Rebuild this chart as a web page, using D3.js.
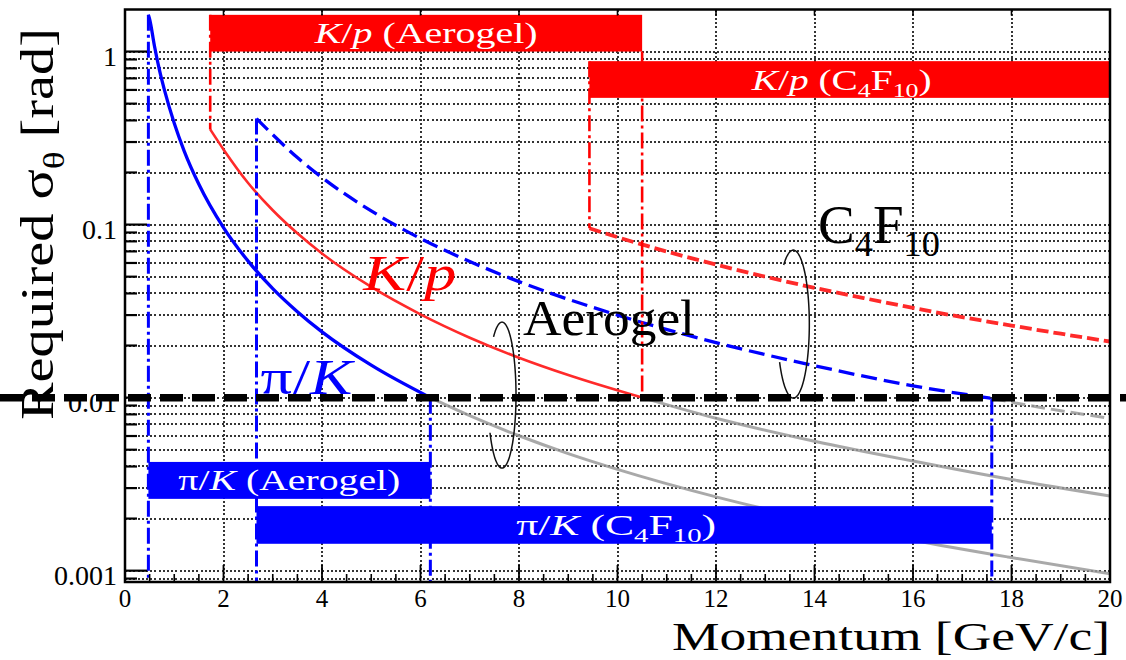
<!DOCTYPE html>
<html>
<head>
<meta charset="utf-8">
<script src="https://cdn.jsdelivr.net/npm/d3@7"></script>
<style>
  html, body { margin: 0; padding: 0; background: #fff; }
  svg { display: block; }
  text { font-family: "Liberation Serif", "Times New Roman", serif; }
</style>
</head>
<body>
<svg id="chart" width="1126" height="660"></svg>
<script>
// ---- axis ticks ----
const xTickValues = [0, 2, 4, 6, 8, 10, 12, 14, 16, 18, 20];
const xTickLabels = ["0", "2", "4", "6", "8", "10", "12", "14", "16", "18", "20"];
const yTickValues = [1, 0.1, 0.01, 0.001];
const yTickLabels = ["1", "0.1", "0.01", "0.001"];

// ---- required angular resolution vs momentum [GeV/c] -> [rad] ----
// pi/K with aerogel radiator
const piKAerogelP     = [0.475, 0.5, 0.6, 0.7, 0.8, 1.0, 1.2, 1.5, 2.0, 2.5, 3.0, 3.5, 4.0, 5.0, 6.2];
const piKAerogelSigma = [1.63, 1.54, 1.07, 0.78, 0.60, 0.385, 0.267, 0.171, 0.096, 0.0615, 0.0427, 0.0314, 0.0240, 0.0154, 0.0100];
// pi/K aerogel beyond the 0.01 rad limit
const piKAerogelTailP     = [6.2, 7, 8, 9, 10, 12, 14, 16, 18, 20];
const piKAerogelTailSigma = [0.0100, 0.00786, 0.00602, 0.00475, 0.00385, 0.00267, 0.00196, 0.00150, 0.00119, 0.00096];

// K/p with aerogel radiator
const kpAerogelP     = [1.73, 2.0, 2.5, 3.0, 3.5, 4.0, 5.0, 6.0, 7.0, 8.0, 9.0, 10.5];
const kpAerogelSigma = [0.355, 0.272, 0.174, 0.121, 0.089, 0.068, 0.0436, 0.0303, 0.0222, 0.0170, 0.0135, 0.0100];
const kpAerogelTailP     = [10.5, 12, 14, 16, 18, 20];
const kpAerogelTailSigma = [0.0100, 0.0076, 0.0056, 0.0043, 0.00336, 0.0027];

// pi/K with C4F10 gas radiator
const piKGasP     = [2.67, 3.0, 3.5, 4.0, 5.0, 6.0, 7.0, 8.0, 10.0, 12.0, 14.0, 16.0, 17.6];
const piKGasSigma = [0.41, 0.331, 0.244, 0.187, 0.120, 0.0831, 0.0612, 0.0468, 0.0300, 0.0208, 0.0153, 0.0117, 0.0099];
const piKGasTailP     = [17.6, 18, 19, 20];
const piKGasTailSigma = [0.0099, 0.0094, 0.0084, 0.0076];

// K/p with C4F10 gas radiator
const kpGasP     = [9.43, 10, 11, 12, 13, 14, 15, 16, 17, 18, 19, 20];
const kpGasSigma = [0.0952, 0.0846, 0.0699, 0.0587, 0.0500, 0.0431, 0.0376, 0.0330, 0.0292, 0.0261, 0.0234, 0.0211];

// requirement line
const sigmaRequirement = 0.01;

// ---- momentum coverage bands ----
const bandPair      = ["K/p", "K/p", "π/K", "π/K"];
const bandRadiator  = ["Aerogel", "C4F10", "Aerogel", "C4F10"];
const bandPStart    = [1.73, 9.43, 0.475, 2.67];
const bandPEnd      = [10.5, 20, 6.2, 17.6];
const bandSigmaLow  = [1.0, 0.54, 0.0026, 0.00143];
const bandSigmaHigh = [1.63, 0.88, 0.00425, 0.00236];

// ---- threshold / limit markers (vertical dash-dot lines) ----
const markerPair     = ["π/K", "K/p", "π/K", "π/K", "K/p", "K/p", "π/K"];
const markerP        = [0.475, 1.73, 2.67, 6.2, 9.43, 10.5, 17.6];
const markerSigmaTop = [1.63, 1.63, 0.41, 0.01, 0.88, 1.0, 0.0099];
const markerSigmaBot = [null, 0.355, null, null, 0.0952, 0.01, null];

// ---------------------------------------------------------------
const W = 1126, H = 660;
const plot = { left: 125, right: 1110, top: 9.5, bottom: 582 };
const pairColor = { "K/p": "#ff0000", "π/K": "#0000ff" };
const yMin = 0.00086, yMax = 1.75;

const x = d3.scaleLinear().domain([0, 20]).range([plot.left, plot.right]);
const y = d3.scaleLog().domain([yMin, yMax]).range([plot.bottom, plot.top]);

const svg = d3.select("#chart");
svg.append("rect").attr("width", W).attr("height", H).attr("fill", "#fff");

svg.append("defs").append("clipPath").attr("id", "plotClip")
  .append("rect")
  .attr("x", plot.left).attr("y", plot.top)
  .attr("width", plot.right - plot.left).attr("height", plot.bottom - plot.top);

// ---- grid (dotted) ----
const grid = svg.append("g").attr("stroke", "#111").attr("stroke-width", 1.6)
  .attr("stroke-dasharray", "2,2.2").attr("opacity", 0.85)
  .attr("shape-rendering", "crispEdges");
const yGridTicks = y.ticks();
grid.selectAll("line.h").data(yGridTicks).join("line")
  .attr("x1", plot.left).attr("x2", plot.right)
  .attr("y1", d => Math.round(y(d))).attr("y2", d => Math.round(y(d)));
grid.selectAll("line.v").data(xTickValues.slice(1, -1)).join("line")
  .attr("y1", plot.top).attr("y2", plot.bottom)
  .attr("x1", d => Math.round(x(d))).attr("x2", d => Math.round(x(d)));

// ---- curves ----
const curves = svg.append("g").attr("clip-path", "url(#plotClip)").attr("fill", "none");
const line = d3.line().x(d => x(d[0])).y(d => y(d[1])).curve(d3.curveMonotoneX);
const zip = (a, b) => a.map((v, i) => [v, b[i]]);

// grey continuations below the requirement
curves.append("path").attr("d", line(zip(piKAerogelTailP, piKAerogelTailSigma)))
  .attr("stroke", "#9a9a9a").attr("stroke-width", 3).attr("opacity", 0.85);
curves.append("path").attr("d", line(zip(kpAerogelTailP, kpAerogelTailSigma)))
  .attr("stroke", "#9a9a9a").attr("stroke-width", 3).attr("opacity", 0.85);
curves.append("path").attr("d", line(zip(piKGasTailP, piKGasTailSigma)))
  .attr("stroke", "#9a9a9a").attr("stroke-width", 3).attr("opacity", 0.85)
  .attr("stroke-dasharray", "14,6");

// aerogel (solid)
curves.append("path").attr("d", line(zip(piKAerogelP, piKAerogelSigma)))
  .attr("stroke", pairColor["π/K"]).attr("stroke-width", 3.3);
curves.append("path").attr("d", line(zip(kpAerogelP, kpAerogelSigma)))
  .attr("stroke", "#ff2a2a").attr("stroke-width", 2.6);
// C4F10 (dashed)
curves.append("path").attr("d", line(zip(piKGasP, piKGasSigma)))
  .attr("stroke", pairColor["π/K"]).attr("stroke-width", 3.3).attr("stroke-dasharray", "16,7");
curves.append("path").attr("d", line(zip(kpGasP, kpGasSigma)))
  .attr("stroke", "#ff2a2a").attr("stroke-width", 3.8).attr("stroke-dasharray", "12,5");

// ---- dash-dot markers ----
const markers = svg.append("g").attr("clip-path", "url(#plotClip)");
markers.selectAll("line").data(markerP).join("line")
  .attr("x1", d => x(d)).attr("x2", d => x(d))
  .attr("y1", (d, i) => y(markerSigmaTop[i]))
  .attr("y2", (d, i) => markerSigmaBot[i] === null ? plot.bottom : y(markerSigmaBot[i]))
  .attr("stroke", (d, i) => pairColor[markerPair[i]])
  .attr("stroke-width", (d, i) => markerPair[i] === "π/K" ? 3 : 2.6)
  .attr("stroke-dasharray", "16,4,3,4");

// ---- rich text helper (italic / subscript parts) ----
function richText(parent, parts, size, fill) {
  const t = parent.append("text").attr("font-size", size).attr("fill", fill);
  let shift = 0;
  parts.forEach(([s, kind]) => {
    const ts = t.append("tspan").text(s);
    if (kind === "i") ts.attr("font-style", "italic");
    if (kind === "s") {
      const d = size * 0.24;
      ts.attr("font-size", size * 0.66).attr("dy", d - shift);
      shift = d;
    } else if (shift) {
      ts.attr("dy", -shift);
      shift = 0;
    }
  });
  return t;
}
function pairParts(pair) {
  return pair === "K/p" ? [["K", "i"], ["/", ""], ["p", "i"]] : [["π", ""], ["/", ""], ["K", "i"]];
}
function radiatorParts(rad) {
  return rad === "C4F10" ? [["C", ""], ["4", "s"], ["F", ""], ["10", "s"]] : [[rad, ""]];
}

// ---- coverage bands ----
const bandLabelWidth = { "K/p|Aerogel": 223, "K/p|C4F10": 180, "π/K|Aerogel": 222, "π/K|C4F10": 200 };
const bands = svg.append("g");
bandPair.forEach((pair, i) => {
  const x0 = x(bandPStart[i]), x1 = x(bandPEnd[i]);
  const y0 = y(bandSigmaHigh[i]), y1 = y(bandSigmaLow[i]);
  bands.append("rect").attr("x", x0).attr("y", y0)
    .attr("width", x1 - x0).attr("height", y1 - y0)
    .attr("fill", pairColor[pair]);
  const parts = pairParts(pair).concat([[" (", ""]], radiatorParts(bandRadiator[i]), [[")", ""]]);
  const t = richText(bands, parts, 30, "#fff")
    .attr("x", (x0 + x1) / 2 - (bandRadiator[i] === "C4F10" ? 8 : 0))
    .attr("y", (y0 + y1) / 2 + 10)
    .attr("text-anchor", "middle");
  t.attr("textLength", bandLabelWidth[pair + "|" + bandRadiator[i]]).attr("lengthAdjust", "spacingAndGlyphs");
});

// ---- annotations ----
const ann = svg.append("g");
richText(ann, pairParts("π/K"), 50, pairColor["π/K"])
  .attr("x", x(2.75)).attr("y", y(0.0105))
  .attr("textLength", 92).attr("lengthAdjust", "spacingAndGlyphs");
richText(ann, pairParts("K/p"), 50, pairColor["K/p"])
  .attr("x", x(4.84)).attr("y", y(0.0418))
  .attr("textLength", 93).attr("lengthAdjust", "spacingAndGlyphs");
richText(ann, radiatorParts("Aerogel"), 50, "#000")
  .attr("x", x(8.08)).attr("y", y(0.023))
  .attr("textLength", 172).attr("lengthAdjust", "spacingAndGlyphs");
richText(ann, radiatorParts("C4F10"), 54, "#000")
  .attr("x", x(14.07)).attr("y", y(0.0782))
  .attr("textLength", 122).attr("lengthAdjust", "spacingAndGlyphs");

// open ellipses grouping the aerogel and the C4F10 curves
function lasso(pc, sc, rx, ry) {
  const cx = x(pc), cy = y(sc);
  const pts = d3.range(-37, 241, 2).map(a => {
    const t = a * Math.PI / 180;
    return [cx + rx * Math.sin(t), cy - ry * Math.cos(t)];
  });
  ann.append("path").attr("d", d3.line().curve(d3.curveCatmullRom)(pts))
    .attr("fill", "none").attr("stroke", "#111").attr("stroke-width", 1.5);
}
lasso(7.655, 0.01034, 14, 73);
lasso(13.57, 0.0266, 16, 74);

// ---- frame and ticks ----
const axes = svg.append("g").attr("stroke", "#000");
axes.append("rect").attr("x", plot.left).attr("y", plot.top)
  .attr("width", plot.right - plot.left).attr("height", plot.bottom - plot.top)
  .attr("fill", "none").attr("stroke-width", 2.5);

const isMajorY = v => Math.abs(Math.log10(v) - Math.round(Math.log10(v))) < 1e-9;
axes.selectAll("line.yt").data(yGridTicks).join("line")
  .attr("x1", plot.left).attr("x2", d => plot.left + (isMajorY(d) ? 22 : 12))
  .attr("y1", d => y(d)).attr("y2", d => y(d)).attr("stroke-width", 2.2);

const xMinor = d3.range(0.5, 20, 0.5).filter(v => v % 2 !== 0);
axes.selectAll("line.xM").data(xTickValues.slice(1, -1)).join("line")
  .attr("x1", d => x(d)).attr("x2", d => x(d))
  .attr("y1", plot.bottom).attr("y2", plot.bottom - 17).attr("stroke-width", 1.8);
axes.selectAll("line.xm").data(xMinor).join("line")
  .attr("x1", d => x(d)).attr("x2", d => x(d))
  .attr("y1", plot.bottom).attr("y2", plot.bottom - 8).attr("stroke-width", 1.6);
axes.selectAll("line.xT").data(xTickValues.slice(1, -1)).join("line")
  .attr("x1", d => x(d)).attr("x2", d => x(d))
  .attr("y1", plot.top).attr("y2", plot.top + 6).attr("stroke-width", 1.6);

// tick labels
const labels = svg.append("g").attr("fill", "#000");
labels.selectAll("text.x").data(xTickValues).join("text")
  .attr("x", d => x(d)).attr("y", 607)
  .attr("text-anchor", "middle").attr("font-size", 25)
  .text((d, i) => xTickLabels[i]);
labels.selectAll("text.y").data(yTickValues).join("text")
  .attr("x", 117).attr("y", d => y(d) + 14)
  .attr("text-anchor", "end").attr("font-size", 28)
  .text((d, i) => yTickLabels[i]);

// axis titles
labels.append("text").attr("x", plot.right).attr("y", 650)
  .attr("text-anchor", "end").attr("font-size", 40)
  .attr("textLength", 438).attr("lengthAdjust", "spacingAndGlyphs")
  .text("Momentum [GeV/c]");
richText(labels, [["Required σ", ""], ["θ", "s"], ["  [rad]", ""]], 46, "#000")
  .attr("text-anchor", "middle")
  .attr("transform", "translate(53," + ((28 + 420) / 2) + ") rotate(-90)")
  .attr("textLength", 392).attr("lengthAdjust", "spacingAndGlyphs");

// ---- requirement line across the full width ----
svg.append("line")
  .attr("x1", 0).attr("x2", W)
  .attr("y1", y(sigmaRequirement)).attr("y2", y(sigmaRequirement))
  .attr("stroke", "#000").attr("stroke-width", 7.5)
  .attr("stroke-dasharray", "23,9");
</script>
</body>
</html>
